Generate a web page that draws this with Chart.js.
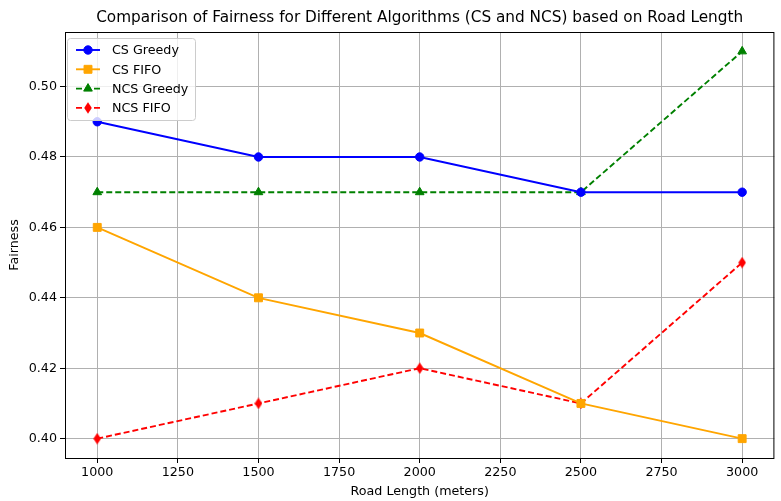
<!DOCTYPE html>
<html lang="en">
<head>
  <meta charset="UTF-8" />
  <title>Fairness vs Road Length</title>
  <script src="https://cdn.jsdelivr.net/npm/chart.js"></script>
  <style>
    html, body { margin: 0; padding: 0; background: #ffffff; }
    canvas { display: block; }
  </style>
</head>
<body>
  <canvas id="fairnessChart" width="781" height="501"></canvas>

  <script>
    const roadLengths = [1000, 1500, 2000, 2500, 3000];
    const csGreedy  = [0.49, 0.48, 0.48, 0.47, 0.47];
    const csFifo    = [0.46, 0.44, 0.43, 0.41, 0.40];
    const ncsGreedy = [0.47, 0.47, 0.47, 0.47, 0.51];
    const ncsFifo   = [0.40, 0.41, 0.42, 0.41, 0.45];

    const xTicks = [1000, 1250, 1500, 1750, 2000, 2250, 2500, 2750, 3000];
    const yTicks = [0.40, 0.42, 0.44, 0.46, 0.48, 0.50];

    const FONT = 'DejaVu Sans';
    const TICK_SIZE = 12.7;

    // thin diamond marker
    function thinDiamond(color) {
      const c = document.createElement('canvas');
      c.width = 8; c.height = 12;
      const g = c.getContext('2d');
      g.fillStyle = color;
      g.beginPath();
      g.moveTo(4, 0.3);
      g.lineTo(7.8, 6);
      g.lineTo(4, 11.7);
      g.lineTo(0.2, 6);
      g.closePath();
      g.fill();
      return c;
    }

    const pts = (ys) => roadLengths.map((x, i) => ({ x, y: ys[i] }));

    const series = [
      { label: 'CS Greedy',  data: csGreedy,  color: '#0000ff', style: 'circle',   radius: 4.2, dash: [] },
      { label: 'CS FIFO',    data: csFifo,    color: '#ffa500', style: 'rect',     radius: 5.6, dash: [] },
      { label: 'NCS Greedy', data: ncsGreedy, color: '#008000', style: 'triangle', radius: 5,   dash: [6, 3] },
      { label: 'NCS FIFO',   data: ncsFifo,   color: '#ff0000', style: thinDiamond('#ff0000'), radius: 5, dash: [6, 3] }
    ];

    const datasets = series.map(s => ({
      label: s.label,
      data: pts(s.data),
      borderColor: s.color,
      backgroundColor: s.color,
      borderWidth: 1.9,
      borderDash: s.dash,
      pointStyle: s.style,
      pointRadius: s.radius,
      pointBackgroundColor: s.color,
      pointBorderColor: s.color,
      pointBorderWidth: 1,
      tension: 0
    }));

    // plot outline, title over the plot area and the legend box
    const decorations = {
      id: 'decorations',
      afterDatasetsDraw(chart) {
        const { ctx, chartArea: a } = chart;
        ctx.save();
        ctx.strokeStyle = '#000';
        ctx.lineWidth = 1;
        ctx.strokeRect(a.left + 0.5, a.top + 0.5, a.right - a.left - 1, a.bottom - a.top);
        ctx.restore();
      },
      afterDraw(chart) {
        const { ctx, chartArea: a } = chart;
        ctx.save();
        ctx.fillStyle = '#000';
        ctx.font = `15.3px "${FONT}"`;
        ctx.textAlign = 'center';
        ctx.textBaseline = 'middle';
        ctx.fillText('Comparison of Fairness for Different Algorithms (CS and NCS) based on Road Length',
          (a.left + a.right) / 2, 18);

        const bx = a.left + 2.5, by = a.top + 6.5, bw = 128, bh = 82;
        ctx.beginPath();
        ctx.roundRect(bx, by, bw, bh, 3);
        ctx.fillStyle = 'rgba(255,255,255,0.8)';
        ctx.fill();
        ctx.strokeStyle = '#cccccc';
        ctx.lineWidth = 1;
        ctx.stroke();

        ctx.font = `${TICK_SIZE}px "${FONT}"`;
        ctx.textAlign = 'left';
        chart.data.datasets.forEach((ds, i) => {
          const y = a.top + 18 + i * 19.3;
          ctx.strokeStyle = ds.borderColor;
          ctx.lineWidth = ds.borderWidth;
          ctx.setLineDash(ds.borderDash);
          ctx.beginPath();
          ctx.moveTo(a.left + 11, y);
          ctx.lineTo(a.left + 35, y);
          ctx.stroke();
          ctx.setLineDash([]);
          ctx.fillStyle = ds.pointBackgroundColor;
          ctx.strokeStyle = ds.pointBorderColor;
          ctx.lineWidth = 1;
          Chart.helpers.drawPoint(ctx, {
            pointStyle: ds.pointStyle,
            radius: ds.pointRadius,
            borderWidth: 1,
            rotation: 0
          }, a.left + 23, y);
          ctx.fillStyle = '#000';
          ctx.fillText(ds.label, a.left + 47, y + 1);
        });
        ctx.restore();
      }
    };

    const tickFont = { family: FONT, size: TICK_SIZE };

    new Chart(document.getElementById('fairnessChart'), {
      type: 'line',
      data: { datasets },
      plugins: [decorations],
      options: {
        responsive: false,
        animation: false,
        layout: { padding: { top: 32, right: 3, left: 0, bottom: 0 } },
        plugins: {
          legend: { display: false },
          tooltip: { enabled: false }
        },
        scales: {
          x: {
            type: 'linear',
            min: 900,
            max: 3100,
            afterBuildTicks: s => { s.ticks = xTicks.map(v => ({ value: v })); },
            afterFit: s => { s.height = 43; },
            ticks: { color: '#000', font: tickFont, padding: 2, maxRotation: 0, callback: v => String(v) },
            grid: { color: '#b0b0b0', lineWidth: 1, tickLength: 5, tickColor: '#000' },
            border: { display: false },
            title: { display: true, text: 'Road Length (meters)', color: '#000', font: tickFont, padding: { top: 0, bottom: 2 } }
          },
          y: {
            min: 0.3945,
            max: 0.5155,
            afterBuildTicks: s => { s.ticks = yTicks.map(v => ({ value: v })); },
            afterFit: s => { s.width = 65; },
            ticks: { color: '#000', font: tickFont, padding: 3, callback: v => v.toFixed(2) },
            grid: { color: '#b0b0b0', lineWidth: 1, tickLength: 5, tickColor: '#000' },
            border: { display: false },
            title: { display: true, text: 'Fairness', color: '#000', font: tickFont, padding: { top: 7, bottom: 0 } }
          }
        }
      }
    });
  </script>
</body>
</html>
